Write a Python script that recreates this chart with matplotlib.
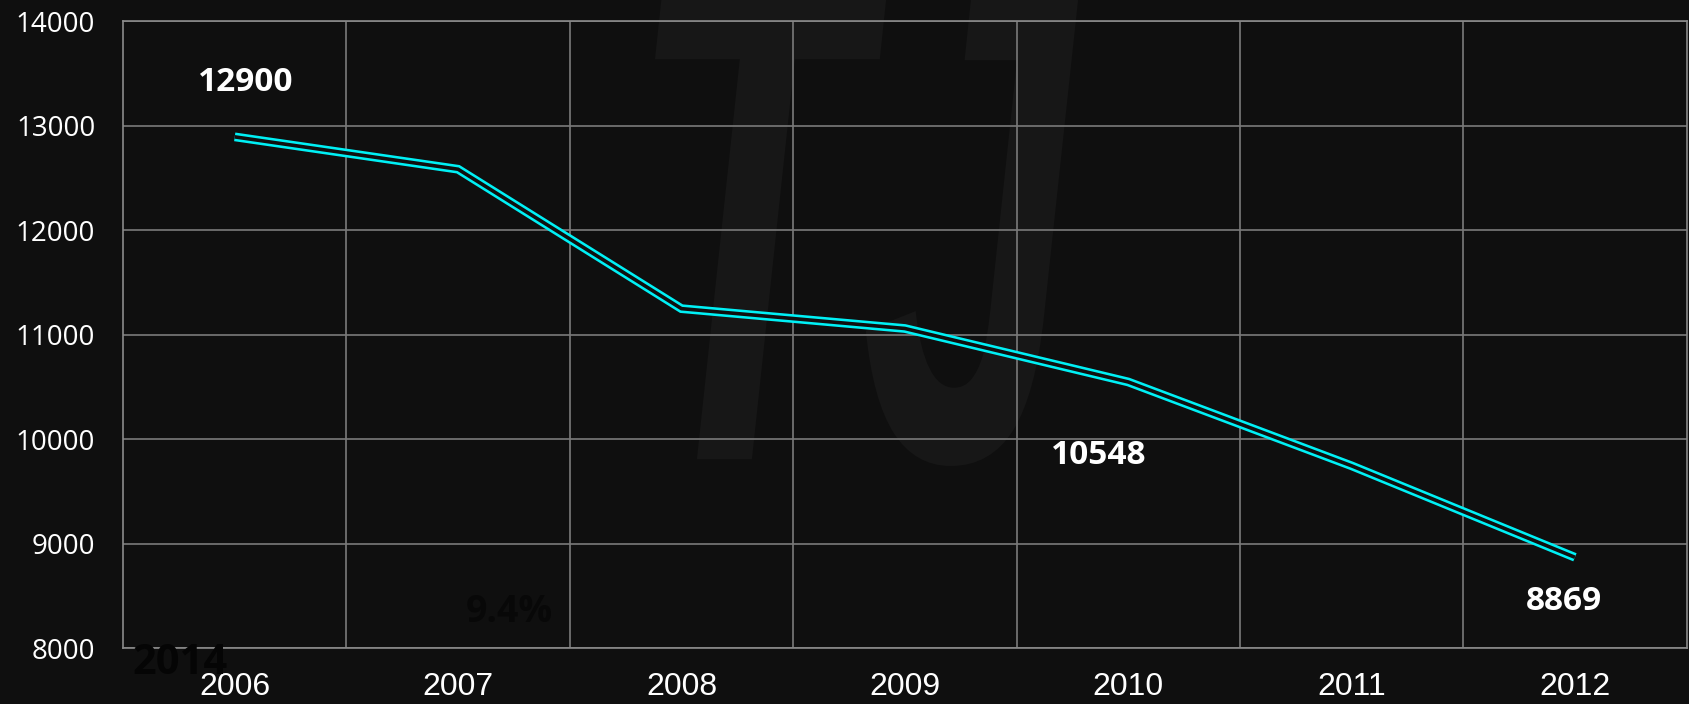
import numpy as np
import matplotlib.pyplot as plt
import matplotlib.patheffects as pe
from matplotlib.textpath import TextPath
from matplotlib.font_manager import FontProperties
from matplotlib.patches import PathPatch
from matplotlib.transforms import Affine2D, IdentityTransform

years = ['2006', '2007', '2008', '2009', '2010', '2011', '2012']
values = [12895, 12585, 11250, 11060, 10548, 9745, 8869]

# which points carry a value label, with the label offsets (x in bands, y in data units)
label_idx = [0, 4, 6]
label_text = ['12900', '10548', '8869']
label_dx = [0.05, -0.13, -0.05]
label_dy = [520, -700, -420]

bg = '#0f0f0f'
fig = plt.figure(figsize=(16.9, 7.04), dpi=100, facecolor=bg)
ax = fig.add_axes([0.0728, 0.0795, 0.9252, 0.89])
ax.set_facecolor('none')

# faint "TJ" watermark behind the plot, squeezed into its box (pixels)
tp = TextPath((0, 0), 'TJ', size=100,
              prop=FontProperties(family='Liberation Sans', style='italic', weight='bold'))
ext = tp.get_extents()
x0, x1, y0, y1 = 655, 1080, 238, 722
tr = (Affine2D().translate(-ext.x0, -ext.y0)
      .scale((x1 - x0) / ext.width, (y1 - y0) / ext.height)
      .translate(x0, y0))
fig.patches.append(PathPatch(tr.transform_path(tp), transform=IdentityTransform(),
                             facecolor='#171717', edgecolor='none', zorder=-5))

x = np.arange(len(years))
ax.plot(x, values, color='#00f0f5', lw=6.3, solid_joinstyle='miter',
        solid_capstyle='butt',
        path_effects=[pe.Stroke(linewidth=6.3, foreground='#00f0f5'),
                      pe.Stroke(linewidth=2.6, foreground=bg)], zorder=3)

for i, t, dx, dy in zip(label_idx, label_text, label_dx, label_dy):
    ax.text(x[i] + dx, values[i] + dy, t, color='white', fontsize=24,
            fontweight='bold', family='Open Sans', ha='center', va='center', zorder=4)

# dark leftover text from the slide
ax.text(0.006, -0.025, '2014', transform=ax.transAxes, color='#050505', fontsize=30,
        fontweight='bold', family='Open Sans', ha='left', va='center', clip_on=False)
ax.text(0.247, 0.057, '9.4%', transform=ax.transAxes, color='#080808', fontsize=27,
        fontweight='bold', family='Open Sans', ha='center', va='center')

ax.set_xlim(-0.5, len(years) - 0.5)
ax.set_ylim(8000, 14000)
ax.set_xticks(x)
ax.set_xticklabels(years, family='Liberation Sans', fontsize=23, color='white')
ax.set_yticks(np.arange(8000, 14001, 1000))
ax.set_yticklabels([str(v) for v in range(8000, 14001, 1000)], family='Open Sans',
                   fontsize=20, color='white')
ax.set_xticks(np.arange(0.5, len(years) - 0.5), minor=True)
ax.tick_params(which='both', length=0)
ax.tick_params(axis='x', pad=17)
ax.tick_params(axis='y', pad=20)

ax.grid(True, which='major', axis='y', color='#7a7a7a', lw=1.2)
ax.grid(True, which='minor', axis='x', color='#7a7a7a', lw=1.2)
for s in ax.spines.values():
    s.set_color('#8a8a8a')
    s.set_linewidth(1.2)

fig.savefig('out.png', dpi=100, facecolor=bg)
